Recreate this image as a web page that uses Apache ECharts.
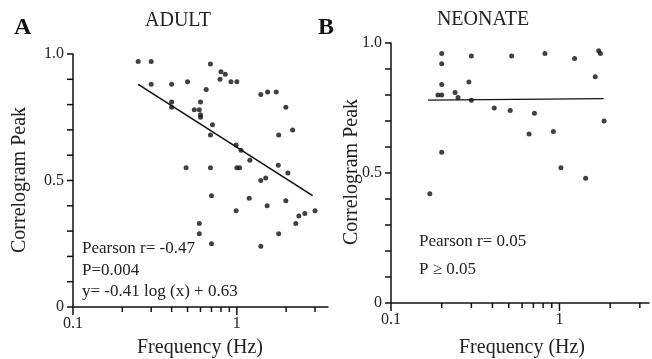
<!DOCTYPE html>
<html lang="en">
<head>
    <meta charset="UTF-8">
    <title>Correlogram Peak vs Frequency</title>
    <script src="https://cdn.jsdelivr.net/npm/echarts@6/dist/echarts.min.js"></script>
</head>
<style>
    html, body { margin: 0; padding: 0; background: #fff; }
    #chart { width: 652px; height: 359px; }
</style>
<body>
<div id="chart"></div>
<script>
    // panel A: adult (frequency Hz, correlogram peak)
    var adultFreq = [0.25, 0.30, 0.30, 0.40, 0.50, 0.40, 0.40, 0.49, 0.69, 0.80, 0.85, 0.79, 0.92, 1.0,
        0.65, 0.60, 0.55, 0.59, 0.60, 0.60, 0.71, 0.69, 0.99, 1.06, 1.2, 1.4, 1.54, 1.74, 1.99, 2.19,
        1.8, 1.79, 0.69, 1.0, 1.04, 2.05, 1.4, 1.5, 0.70, 1.19, 0.99, 1.53, 1.99, 2.29, 2.39, 2.6, 3.0,
        0.59, 0.59, 0.70, 1.8, 1.4];
    var adultPeak = [0.97, 0.97, 0.88, 0.88, 0.89, 0.81, 0.79, 0.55, 0.96, 0.93, 0.92, 0.90, 0.89, 0.89,
        0.86, 0.81, 0.78, 0.78, 0.76, 0.75, 0.72, 0.68, 0.64, 0.62, 0.58, 0.84, 0.85, 0.85, 0.79, 0.70,
        0.68, 0.56, 0.55, 0.55, 0.55, 0.53, 0.50, 0.51, 0.44, 0.43, 0.38, 0.40, 0.42, 0.33, 0.36, 0.37, 0.38,
        0.33, 0.29, 0.25, 0.29, 0.24];
    var adultFit = [[0.25, 0.88], [2.9, 0.44]];

    // panel B: neonate
    var neoFreq = [0.20, 0.30, 0.20, 0.20, 0.29, 0.19, 0.20, 0.24, 0.25, 0.30, 0.20, 0.52, 0.82, 1.23,
        1.71, 1.75, 1.63, 0.41, 0.51, 0.71, 1.84, 0.66, 0.92, 1.02, 0.17, 1.43];
    var neoPeak = [0.96, 0.95, 0.92, 0.84, 0.85, 0.80, 0.80, 0.81, 0.79, 0.78, 0.58, 0.95, 0.96, 0.94,
        0.97, 0.96, 0.87, 0.75, 0.74, 0.73, 0.70, 0.65, 0.66, 0.52, 0.42, 0.48];
    var neoFit = [[0.166, 0.78], [1.83, 0.786]];

    // log ticks on the frequency axes (labels only at 0.1 and 1)
    var majorTicks = [1];
    var minorTicks = [0.2, 0.3, 0.4, 0.5, 0.6, 0.7, 0.8, 0.9, 2, 3];
    // y ticks every 0.1, labelled at 0, 0.5 and 1.0
    var yTicks = [0, 0.1, 0.2, 0.3, 0.4, 0.5, 0.6, 0.7, 0.8, 0.9, 1.0];
    var yTickLabels = ['0', '0.5', '1.0'];

    var serif = 'Liberation Serif';
    var ink = '#111';

    var grids = [
        { left: 73, top: 54, width: 255, height: 253 },
        { left: 391, top: 43, width: 259, height: 260 }
    ];

    function zip(xs, ys) {
        var out = [];
        for (var i = 0; i < xs.length; i++) out.push([xs[i], ys[i]]);
        return out;
    }

    function yLabel(v) {
        for (var i = 0; i < yTickLabels.length; i++) {
            if (Math.abs(v - parseFloat(yTickLabels[i])) < 1e-9) return yTickLabels[i];
        }
        return '';
    }

    function xLabel(v) {
        if (Math.abs(v - 0.1) < 1e-6) return '0.1';
        if (Math.abs(v - 1) < 1e-6) return '1';
        return '';
    }

    function xAxisFor(gi, max) {
        return {
            type: 'log', logBase: 10, gridIndex: gi, min: 0.1, max: max,
            axisLine: { lineStyle: { color: ink, width: 1.5 } },
            axisTick: { show: false },
            axisLabel: { fontFamily: serif, fontSize: 16, color: '#222', margin: 9, formatter: xLabel },
            splitLine: { show: false }
        };
    }

    function yAxisFor(gi) {
        return {
            type: 'value', gridIndex: gi, min: 0, max: 1, interval: 0.1,
            axisLine: { show: true, lineStyle: { color: ink, width: 1.5 } },
            axisTick: { show: false },
            axisLabel: { fontFamily: serif, fontSize: 16, color: '#222', margin: 9, formatter: yLabel },
            splitLine: { show: false }
        };
    }

    function txt(x, y, s, font, extra) {
        var style = { text: s, font: font, fill: '#222', verticalAlign: 'middle' };
        for (var k in extra) style[k] = extra[k];
        return { type: 'text', x: x, y: y, z: 100, style: style };
    }

    var big = '20px "Liberation Serif"';
    var note = '17px "Liberation Serif"';
    var labels = [
        txt(14, 28, 'A', 'bold 24px "Liberation Serif"', { fill: ink }),
        txt(318, 28, 'B', 'bold 24px "Liberation Serif"', { fill: ink }),
        txt(178, 21, 'ADULT', big, { align: 'center' }),
        txt(483, 20, 'NEONATE', big, { align: 'center' }),
        txt(200, 348, 'Frequency (Hz)', big, { align: 'center' }),
        txt(522, 348, 'Frequency (Hz)', big, { align: 'center' }),
        txt(82, 249, 'Pearson r= -0.47', note),
        txt(82, 271, 'P=0.004', note),
        txt(82, 292, 'y= -0.41 log (x) + 0.63', note),
        txt(419, 242, 'Pearson r= 0.05', note),
        txt(419, 270, 'P \u2265 0.05', note)
    ];
    var yTitleA = txt(20, 180, 'Correlogram Peak', big, { align: 'center' });
    yTitleA.rotation = Math.PI / 2;
    var yTitleB = txt(352, 172, 'Correlogram Peak', big, { align: 'center' });
    yTitleB.rotation = Math.PI / 2;
    labels.push(yTitleA, yTitleB);

    var chart = echarts.init(document.getElementById('chart'));
    chart.setOption({
        animation: false,
        grid: grids,
        xAxis: [xAxisFor(0, 3.6), xAxisFor(1, 3.4)],
        yAxis: [yAxisFor(0), yAxisFor(1)],
        series: [
            { type: 'scatter', xAxisIndex: 0, yAxisIndex: 0, symbolSize: 5,
              itemStyle: { color: ink }, data: zip(adultFreq, adultPeak) },
            { type: 'line', xAxisIndex: 0, yAxisIndex: 0, showSymbol: false,
              lineStyle: { color: ink, width: 1.6 }, data: adultFit },
            { type: 'scatter', xAxisIndex: 1, yAxisIndex: 1, symbolSize: 5,
              itemStyle: { color: ink }, data: zip(neoFreq, neoPeak) },
            { type: 'line', xAxisIndex: 1, yAxisIndex: 1, showSymbol: false,
              lineStyle: { color: ink, width: 1.3 }, data: neoFit }
        ],
        graphic: labels
    });

    // tick marks, positioned through the chart's own axis scales
    var ticks = [];
    function seg(x1, y1, x2, y2) {
        ticks.push({ type: 'line', z: 100, shape: { x1: x1, y1: y1, x2: x2, y2: y2 },
            style: { stroke: ink, lineWidth: 1.5 } });
    }
    function ok(n) { return typeof n === 'number' && isFinite(n); }
    [0, 1].forEach(function (gi) {
        var axisX = grids[gi].left;                              // y axis sits on the grid's left edge
        var axisY = chart.convertToPixel({ yAxisIndex: gi }, 0);  // x axis sits at peak = 0
        if (!ok(axisY)) axisY = grids[gi].top + grids[gi].height;
        minorTicks.forEach(function (v) {
            var x = chart.convertToPixel({ xAxisIndex: gi }, v);
            if (ok(x)) seg(x, axisY, x, axisY + 5);
        });
        majorTicks.forEach(function (v) {
            var x = chart.convertToPixel({ xAxisIndex: gi }, v);
            if (ok(x)) seg(x, axisY, x, axisY + 8);
        });
        seg(axisX, axisY, axisX, axisY + 8);
        yTicks.forEach(function (v) {
            var y = chart.convertToPixel({ yAxisIndex: gi }, v);
            if (ok(y)) seg(axisX - 6, y, axisX, y);
        });
    });
    chart.setOption({ graphic: labels.concat(ticks) });
</script>
</body>
</html>
